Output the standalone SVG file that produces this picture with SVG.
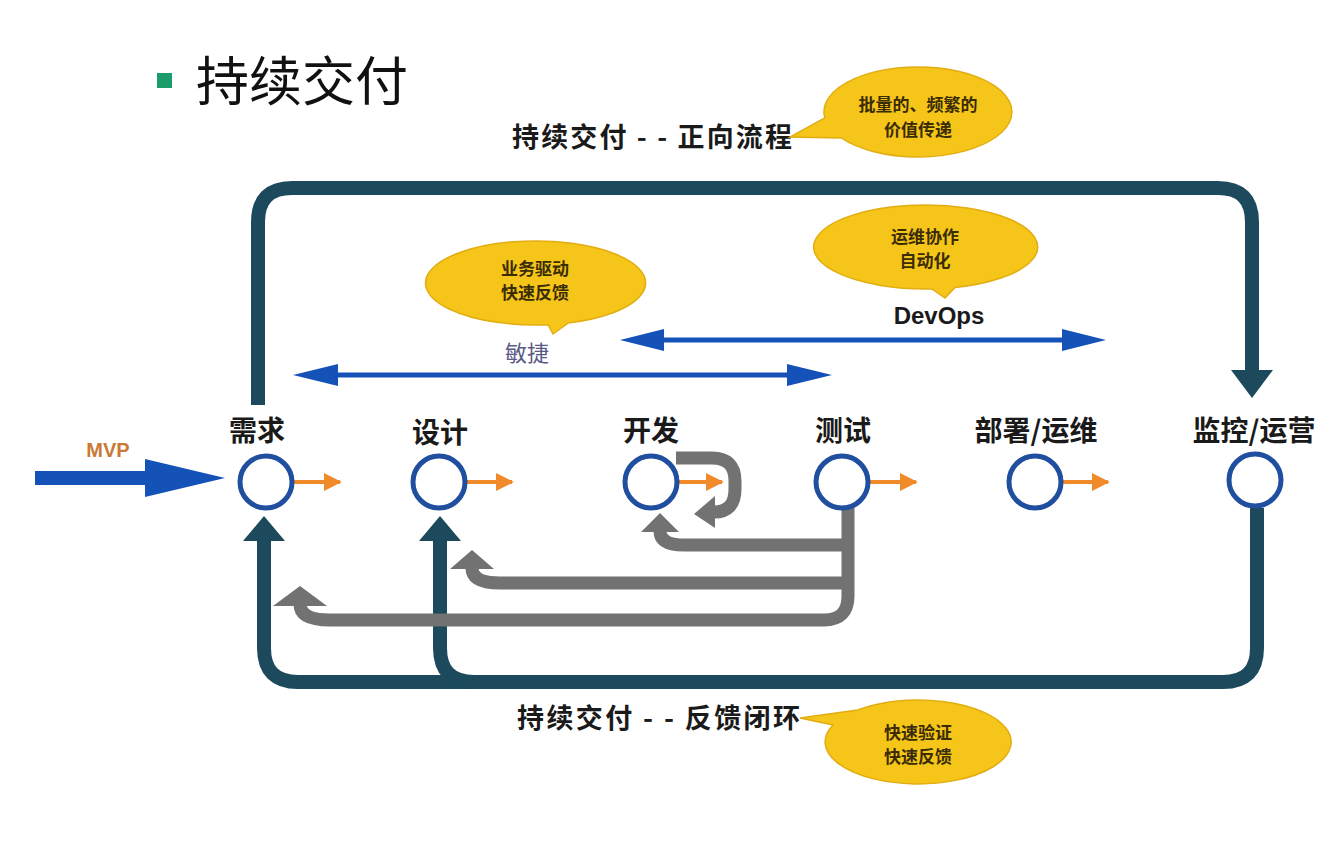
<svg xmlns="http://www.w3.org/2000/svg" width="1338" height="846" viewBox="0 0 1338 846">
  <style>
    .cjk { font-family: "Noto Sans CJK SC", "Liberation Sans", sans-serif; }
    .node-label { font-size: 28px; font-weight: 700; fill: #1a1a1a; text-anchor: middle; }
    .heading { font-size: 27px; font-weight: 700; fill: #1a1a1a; }
    .bubble { fill: #f5c519; stroke: #e2ad12; stroke-width: 1.5; }
    .bubble-text { font-size: 17px; font-weight: 700; fill: #3a2c05; text-anchor: middle; }
    .node { fill: #ffffff; stroke: #1f4f9e; stroke-width: 5; }
    .loop { fill: none; stroke: #1c4a5c; stroke-width: 14; }
    .loop-head { fill: #1c4a5c; }
    .rework { fill: none; stroke: #727272; stroke-width: 13; }
    .rework-head { fill: #727272; }
    .flow { fill: none; stroke: #f08a2a; stroke-width: 4; }
    .scope { fill: none; stroke: #1552b8; stroke-width: 5; }
    .scope-head { fill: #1552b8; }
  </style>
  <defs>
    <marker id="orangeHead" viewBox="0 0 10 10" refX="9" refY="5" markerWidth="4.5" markerHeight="4.5" orient="auto">
      <path d="M0 0 L10 5 L0 10 z" fill="#f08a2a"/>
    </marker>
  </defs>

  <rect width="1338" height="846" fill="#ffffff"/>

  <!-- title -->
  <g id="title">
    <rect x="157" y="73" width="15" height="15" fill="#1b9c6a"/>
    <text class="cjk" x="196" y="101" font-size="53" fill="#111">持续交付</text>
  </g>

  <!-- connectors -->
  <g id="connectors">
    <!-- forward flow loop -->
    <path class="loop" d="M258 405 V222 Q258 188 292 188 H1218 Q1252 188 1252 222 V372"/>
    <polygon class="loop-head" points="1231,370 1273,370 1252,398"/>

    <!-- feedback loop -->
    <path class="loop" d="M1257 508 V648 Q1257 682 1223 682 H298 Q264 682 264 648 V538"/>
    <path class="loop" d="M440 538 V648 Q440 682 474 682"/>
    <polygon class="loop-head" points="243,541 285,541 264,516"/>
    <polygon class="loop-head" points="419,541 461,541 440,516"/>

    <!-- rework arrows from testing -->
    <path class="rework" d="M848 500 V596 Q848 620 824 620 H330 Q300 620 300 604"/>
    <polygon class="rework-head" points="273,606 327,606 300,586"/>
    <path class="rework" d="M848 583 H500 Q472 583 472 568"/>
    <polygon class="rework-head" points="450,569 494,569 472,550"/>
    <path class="rework" d="M848 545 H684 Q660 545 660 531"/>
    <polygon class="rework-head" points="641,532 679,532 660,513"/>
    <!-- development self-loop -->
    <path class="rework" d="M676 458 H712 Q735 458 735 481 V489 Q735 512 714 512"/>
    <polygon class="rework-head" points="715,496 715,528 694,514"/>

    <!-- agile span -->
    <path class="scope" d="M335 375 H790"/>
    <polygon class="scope-head" points="293,375 338,364 338,386"/>
    <polygon class="scope-head" points="832,375 787,364 787,386"/>

    <!-- DevOps span -->
    <path class="scope" d="M660 340 H1065"/>
    <polygon class="scope-head" points="620,340 664,329 664,351"/>
    <polygon class="scope-head" points="1106,340 1062,329 1062,351"/>

    <!-- MVP input -->
    <rect x="35" y="471" width="115" height="14" fill="#1552b8"/>
    <polygon points="145,459 145,497 225,478" fill="#1552b8"/>

    <!-- stage-to-stage flow -->
    <path class="flow" d="M294 482 H340" marker-end="url(#orangeHead)"/>
    <path class="flow" d="M467 482 H512" marker-end="url(#orangeHead)"/>
    <path class="flow" d="M679 482 H722" marker-end="url(#orangeHead)"/>
    <path class="flow" d="M870 482 H916" marker-end="url(#orangeHead)"/>
    <path class="flow" d="M1063 482 H1108" marker-end="url(#orangeHead)"/>
  </g>

  <!-- stages -->
  <g id="stage-requirements">
    <text class="cjk node-label" x="257" y="441">需求</text>
    <circle class="node" cx="266" cy="482" r="26"/>
  </g>
  <g id="stage-design">
    <text class="cjk node-label" x="440" y="443">设计</text>
    <circle class="node" cx="439" cy="482" r="26"/>
  </g>
  <g id="stage-development">
    <text class="cjk node-label" x="651" y="441">开发</text>
    <circle class="node" cx="651" cy="482" r="26"/>
  </g>
  <g id="stage-testing">
    <text class="cjk node-label" x="843" y="441">测试</text>
    <circle class="node" cx="842" cy="482" r="26"/>
  </g>
  <g id="stage-deploy">
    <text class="cjk node-label" x="1036" y="441">部署/运维</text>
    <circle class="node" cx="1035" cy="482" r="26"/>
  </g>
  <g id="stage-monitor">
    <text class="cjk node-label" x="1254" y="441">监控/运营</text>
    <circle class="node" cx="1255" cy="480" r="26"/>
  </g>

  <!-- labels -->
  <g id="label-forward">
    <text class="cjk heading" x="512" y="147" textLength="280" lengthAdjust="spacing">持续交付 - - 正向流程</text>
  </g>
  <g id="label-feedback">
    <text class="cjk heading" x="517" y="728" textLength="283" lengthAdjust="spacing">持续交付 - - 反馈闭环</text>
  </g>
  <g id="label-mvp">
    <text x="108" y="457" font-family="Liberation Sans, sans-serif" font-size="20" font-weight="700" fill="#c97a38" text-anchor="middle">MVP</text>
  </g>
  <g id="label-agile">
    <text class="cjk" x="527" y="361" font-size="22" fill="#5b5a86" text-anchor="middle">敏捷</text>
  </g>
  <g id="label-devops">
    <text x="939" y="324" font-family="Liberation Sans, sans-serif" font-size="24" font-weight="700" fill="#1a1a1a" text-anchor="middle">DevOps</text>
  </g>

  <!-- callouts -->
  <g id="callout-value">
    <path class="bubble" d="M824.8 118 A94 45 0 1 1 841.3 138 L790 137 Z"/>
    <text class="cjk bubble-text" x="918" y="111">批量的、频繁的</text>
    <text class="cjk bubble-text" x="918" y="136">价值传递</text>
  </g>
  <g id="callout-agile">
    <path class="bubble" d="M548 324.7 A110 42 0 1 1 568 323.1 L553 334 Z"/>
    <text class="cjk bubble-text" x="535" y="275">业务驱动</text>
    <text class="cjk bubble-text" x="535" y="299">快速反馈</text>
  </g>
  <g id="callout-devops">
    <path class="bubble" d="M932 288.9 A112 42 0 1 1 955 287.5 L945 298 Z"/>
    <text class="cjk bubble-text" x="925" y="243">运维协作</text>
    <text class="cjk bubble-text" x="925" y="267">自动化</text>
  </g>
  <g id="callout-feedback">
    <path class="bubble" d="M857.7 710 A93 42 0 1 1 833 725 L800 718 Z"/>
    <text class="cjk bubble-text" x="918" y="739">快速验证</text>
    <text class="cjk bubble-text" x="918" y="763">快速反馈</text>
  </g>
</svg>
